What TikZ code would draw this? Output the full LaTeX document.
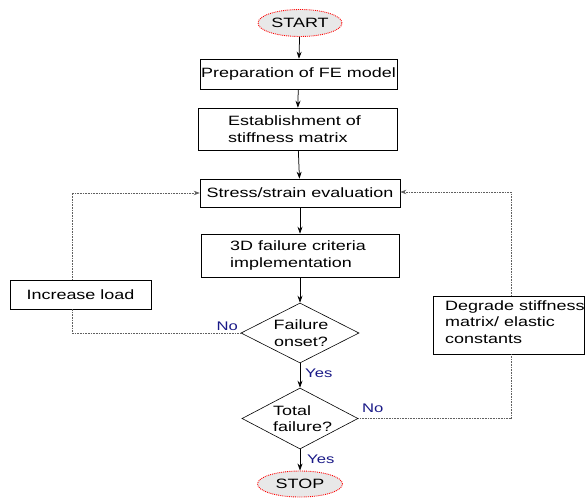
\documentclass[tikz,border=0pt]{standalone}
\usepackage{fontspec}
\setmainfont[FakeStretch=1.33]{Liberation Sans}
\usetikzlibrary{shapes.geometric,arrows.meta}
\definecolor{lblue}{RGB}{25,25,135}
\begin{document}
\begin{tikzpicture}[x=1pt,y=-1pt,
  every node/.style={font=\fontsize{13.5}{16.5}\selectfont, inner sep=0pt},
  term/.style={ellipse, draw=red, densely dotted, line width=0.9pt, fill=gray!18, minimum width=84pt, minimum height=27pt},
  box/.style={draw, line width=0.6pt, rectangle},
  dia/.style={diamond, draw, line width=0.6pt, aspect=2},
  flow/.style={-{Stealth[length=7pt,width=5pt]}, line width=0.75pt},
  loop/.style={dash pattern=on 1pt off 0.6pt, gray!75!black, line width=0.65pt},
  loopa/.style={loop, -{Stealth[length=6pt,width=4.5pt]}},
  lbl/.style={text=lblue, font=\fontsize{12.5}{15}\selectfont}]
\useasboundingbox (0,0) rectangle (585,497);
\node[term] (start) at (300,23) {START};
\node[box, minimum width=197pt, minimum height=30pt] (prep) at (298.5,74) {Preparation of FE model};
\node[box, minimum width=199pt, minimum height=42pt] (estab) at (297.5,129) {};
\node[align=left, anchor=west] (estabt) at (228,129) {Establishment of\\stiffness matrix};
\node[box, minimum width=200pt, minimum height=28pt] (stress) at (300,193) {Stress/strain evaluation};
\node[box, minimum width=198pt, minimum height=43pt] (crit) at (300,255.5) {};
\node[align=left, anchor=west] (critt) at (230,255.5) {3D failure criteria\\implementation};
\node[box, minimum width=141pt, minimum height=29pt] (inc) at (80.5,294.5) {Increase load};
\node[dia, minimum width=118pt, minimum height=60pt] (onset) at (300,333) {};
\node[align=center] (onsett) at (301,333) {Failure\\onset?};
\node[dia, minimum width=116pt, minimum height=61pt] (total) at (300,418.5) {};
\node[align=left, anchor=west] (totalt) at (273,418.5) {Total\\failure?};
\node[term, minimum width=85pt, minimum height=26pt] (stop) at (300,484) {STOP};
\node[box, minimum width=151pt, minimum height=58pt] (deg) at (508.5,325) {};
\node[align=left, anchor=west] (degt) at (445,322) {Degrade stiffness\\matrix/ elastic\\constants};

\draw[flow] (start) -- (prep);
\draw[flow] (prep) -- (estab);
\draw[flow] (estab) -- (stress);
\draw[flow] (stress) -- (crit);
\draw[flow] (crit) -- (onset);
\draw[flow] (onset) -- (total);
\draw[flow] (total) -- (stop);

\coordinate (l1) at (72,333);
\coordinate (l2) at (72,193);
\coordinate (r1) at (511,418.5);
\coordinate (r2) at (511,192);
\draw[loop] (onset.west) -- (l1) -- (l1 |- inc.south);
\draw[loopa] (l2 |- inc.north) -- (l2) -- (stress.west);
\draw[loop] (total.east) -- (r1) -- (r1 |- deg.south);
\draw[loopa] (r2 |- deg.north) -- (r2) -- (stress.east |- r2);

\node[lbl, anchor=south east] (no1) at (238,331) {No};
\node[lbl, anchor=west] (yes1) at (305,373) {Yes};
\node[lbl, anchor=south west] (no2) at (362,413) {No};
\node[lbl, anchor=west] (yes2) at (307,459) {Yes};
\end{tikzpicture}
\end{document}
